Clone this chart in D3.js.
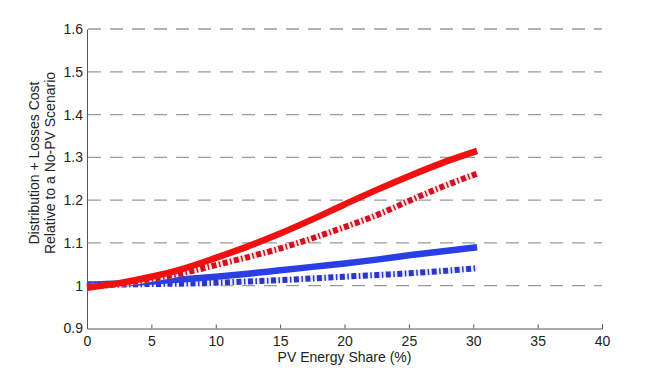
<!DOCTYPE html>
<html><head><meta charset="utf-8">
<script src="https://cdn.jsdelivr.net/npm/d3@7"></script>
<style>body{margin:0;background:#fff}svg{display:block}text{font-family:"Liberation Sans",Arial,sans-serif;fill:#222}</style>
</head><body><svg id="c" width="666" height="370"></svg>
<script>
const pvShare = [0, 2.5, 5, 7.5, 10, 12.5, 15, 17.5, 20, 22.5, 25, 27.5, 30.3];
const redSolid = [0.995, 1.006, 1.021, 1.040, 1.065, 1.092, 1.122, 1.155, 1.190, 1.224, 1.256, 1.286, 1.315];
const redDashed = [0.997, 1.004, 1.016, 1.030, 1.048, 1.067, 1.087, 1.111, 1.137, 1.165, 1.198, 1.230, 1.262];
const blueSolid = [1.002, 1.005, 1.010, 1.015, 1.021, 1.028, 1.036, 1.044, 1.052, 1.061, 1.071, 1.080, 1.090];
const blueDashed = [1.003, 1.003, 1.004, 1.005, 1.007, 1.010, 1.013, 1.017, 1.021, 1.025, 1.029, 1.034, 1.041];
const xTicks = [0, 5, 10, 15, 20, 25, 30, 35, 40];
const yTicks = [0.9, 1, 1.1, 1.2, 1.3, 1.4, 1.5, 1.6];

const svg = d3.select("#c");
const x = d3.scaleLinear().domain([0, 40]).range([87, 602]);
const y = d3.scaleLinear().domain([0.9, 1.6]).range([328.5, 29]);

// grid
svg.append("g").selectAll("line").data(yTicks.filter(d => d > 0.9)).join("line")
  .attr("x1", x(0) + 1).attr("x2", x(40)).attr("y1", d => y(d)).attr("y2", d => y(d))
  .attr("stroke", "#999").attr("stroke-width", 1.3).attr("stroke-dasharray", "13,9");

// axes
const yAxis = svg.append("g").attr("transform", `translate(${x(0)},0)`)
  .call(d3.axisLeft(y).tickValues(yTicks).tickSize(0).tickPadding(4).tickFormat(d => d === 1 ? "1" : d3.format(".1f")(d)));
yAxis.select(".domain").attr("stroke", "#555");
yAxis.selectAll("text").attr("font-size", 14).style("fill", "#222");

const xAxis = svg.append("g").attr("transform", `translate(0,${y(0.9)})`)
  .call(d3.axisBottom(x).tickValues(xTicks).tickSize(-4).tickPadding(8).tickFormat(d3.format("d")));
xAxis.select(".domain").attr("stroke", "#555");
xAxis.selectAll(".tick line").attr("stroke", "#555");
xAxis.selectAll("text").attr("font-size", 14).style("fill", "#222");

// titles
svg.append("text").attr("x", (x(0) + x(40)) / 2).attr("y", 362).attr("text-anchor", "middle")
  .attr("font-size", 14).text("PV Energy Share (%)");
const yt = svg.append("text").attr("transform", "translate(39,163) rotate(-90)").attr("text-anchor", "middle").attr("font-size", 14);
yt.append("tspan").attr("x", 0).attr("dy", 0).text("Distribution + Losses Cost");
yt.append("tspan").attr("x", 0).attr("dy", 16).text("Relative to a No-PV Scenario");

const line = vals => d3.line().curve(d3.curveMonotoneX).x((d, i) => x(pvShare[i])).y(d => y(d))(vals);

svg.append("path").attr("d", line(blueDashed)).attr("fill", "none").attr("stroke", "#e8ecfa").attr("stroke-width", 6);
svg.append("path").attr("d", line(blueDashed)).attr("fill", "none").attr("stroke", "#2b35c8").attr("stroke-width", 6).attr("stroke-dasharray", "5,2.5,1.5,2.5");
svg.append("path").attr("d", line(blueSolid)).attr("fill", "none").attr("stroke", "#2a3ee6").attr("stroke-width", 6.5);
svg.append("path").attr("d", line(redDashed)).attr("fill", "none").attr("stroke", "#fbe0e0").attr("stroke-width", 6);
svg.append("path").attr("d", line(redDashed)).attr("fill", "none").attr("stroke", "#d01020").attr("stroke-width", 6).attr("stroke-dasharray", "5,2.5,1.5,2.5");
svg.append("path").attr("d", line(redSolid)).attr("fill", "none").attr("stroke", "#f01010").attr("stroke-width", 6.5);
</script></body></html>
